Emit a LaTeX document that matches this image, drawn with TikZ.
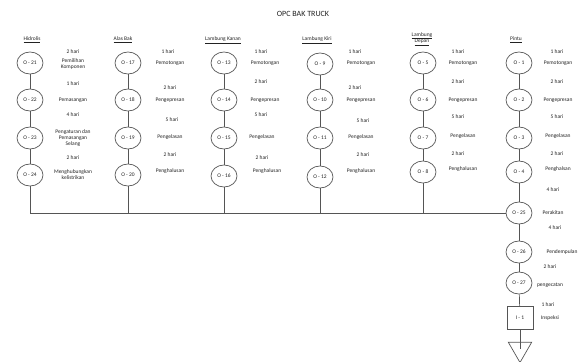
\documentclass[tikz,border=0pt]{standalone}
\usepackage{fontspec}
\setmainfont{Carlito}
\usetikzlibrary{shapes.geometric}
\definecolor{linec}{HTML}{555555}
\definecolor{txtc}{HTML}{222222}
\tikzset{
  op/.style={ellipse, draw=linec, line width=0.7pt, minimum width=26pt, minimum height=22pt, inner sep=0pt, font=\fontsize{5.5}{6}\selectfont, text=txtc},
  insp/.style={rectangle, draw=linec, line width=0.7pt, minimum width=26pt, minimum height=23pt, inner sep=0pt, font=\fontsize{5.5}{6}\selectfont, text=txtc},
  store/.style={regular polygon, regular polygon sides=3, shape border rotate=180, draw=linec, line width=0.7pt, minimum size=27pt, inner sep=0pt},
  lbl/.style={font=\fontsize{5.5}{6.2}\selectfont, text=txtc, align=center, inner sep=0pt},
  hdr/.style={font=\fontsize{5.5}{6.5}\selectfont, text=txtc, align=center, inner sep=0pt},
  conn/.style={draw=linec, line width=0.7pt},
}
\begin{document}
\begin{tikzpicture}[x=1pt,y=-1pt]
\useasboundingbox (0,0) rectangle (582,362);
\node[font=\fontsize{8}{9}\selectfont, text=txtc] (title) at (303,14) {OPC BAK TRUCK};

% headers
\node[hdr] (h1) at (32,40) {\underline{Hidrolis}};
\node[hdr] (h2) at (123,40) {\underline{Alas Bak}};
\node[hdr] (h3) at (223,40) {\underline{Lambung Kanan}};
\node[hdr] (h4) at (317,40) {\underline{Lambung Kiri}};
\node[hdr] (h5) at (422,39) {\underline{Lambung}\\\underline{Depan}};
\node[hdr] (h6) at (516,40) {\underline{Pintu}};

% Hidrolis
\node[op] (o21) at (30,63) {O - 21};
\node[op] (o22) at (30,100) {O - 22};
\node[op] (o23) at (30,138) {O - 23};
\node[op] (o24) at (30,175) {O - 24};
\node[lbl] (t21) at (73,52) {2 hari};
\node[lbl] (l21) at (73,64) {Pemilihan\\Komponen};
\node[lbl] (t22) at (73,84) {1 hari};
\node[lbl] (l22) at (73,100) {Pemasangan};
\node[lbl] (t23) at (73,115) {4 hari};
\node[lbl] (l23) at (73,138) {Pengaturan dan\\Pemasangan\\Selang};
\node[lbl] (t24) at (73,158) {2 hari};
\node[lbl] (l24) at (73,175) {Menghubungkan\\kelistrikan};

% Alas Bak
\node[op] (o17) at (128,63) {O - 17};
\node[op] (o18) at (128,100) {O - 18};
\node[op] (o19) at (128,138) {O - 19};
\node[op] (o20) at (128,175) {O - 20};
\node[lbl] (t17) at (168,52) {1 hari};
\node[lbl] (l17) at (170,63) {Pemotongan};
\node[lbl] (t18) at (170,88) {2 hari};
\node[lbl] (l18) at (170,100) {Pengepresan};
\node[lbl] (t19) at (172,120) {5 hari};
\node[lbl] (l19) at (170,137) {Pengelasan};
\node[lbl] (t20) at (170,155) {2 hari};
\node[lbl] (l20) at (170,171) {Penghalusan};

% Lambung Kanan
\node[op] (o13) at (224,63) {O - 13};
\node[op] (o14) at (224,100) {O - 14};
\node[op] (o15) at (224,138) {O - 15};
\node[op] (o16) at (224,176) {O - 16};
\node[lbl] (t13) at (261,52) {1 hari};
\node[lbl] (l13) at (265,63) {Pemotongan};
\node[lbl] (t14) at (261,82) {2 hari};
\node[lbl] (l14) at (265,100) {Pengepresan};
\node[lbl] (t15) at (261,115) {5 hari};
\node[lbl] (l15) at (262,137) {Pengelasan};
\node[lbl] (t16) at (262,158) {2 hari};
\node[lbl] (l16) at (267,171) {Penghalusan};

% Lambung Kiri
\node[op] (o9) at (320,64) {O - 9};
\node[op] (o10) at (320,100) {O - 10};
\node[op] (o11) at (320,138) {O - 11};
\node[op] (o12) at (320,177) {O - 12};
\node[lbl] (t9) at (355,52) {1 hari};
\node[lbl] (l9) at (361,63) {Pemotongan};
\node[lbl] (t10) at (355,88) {2 hari};
\node[lbl] (l10) at (361,100) {Pengepresan};
\node[lbl] (t11) at (363,121) {5 hari};
\node[lbl] (l11) at (361,137) {Pengelasan};
\node[lbl] (t12) at (363,155) {2 hari};
\node[lbl] (l12) at (361,171) {Penghalusan};

% Lambung Depan
\node[op] (o5) at (423,63) {O - 5};
\node[op] (o6) at (423,100) {O - 6};
\node[op] (o7) at (423,138) {O - 7};
\node[op] (o8) at (423,172) {O - 8};
\node[lbl] (t5) at (458,52) {1 hari};
\node[lbl] (l5) at (463,63) {Pemotongan};
\node[lbl] (t6) at (458,82) {2 hari};
\node[lbl] (l6) at (463,100) {Pengepresan};
\node[lbl] (t7) at (458,117) {5 hari};
\node[lbl] (l7) at (463,136) {Pengelasan};
\node[lbl] (t8) at (458,154) {2 hari};
\node[lbl] (l8) at (463,169) {Penghalusan};

% Pintu
\node[op] (o1) at (519,63) {O - 1};
\node[op] (o2) at (519,100) {O - 2};
\node[op] (o3) at (519,138) {O - 3};
\node[op] (o4) at (519,172) {O - 4};
\node[lbl] (t1) at (557,52) {1 hari};
\node[lbl] (l1) at (558,63) {Pemotongan};
\node[lbl] (t2) at (557,82) {2 hari};
\node[lbl] (l2) at (558,100) {Pengepresan};
\node[lbl] (t3) at (557,117) {5 hari};
\node[lbl] (l3) at (558,136) {Pengelasan};
\node[lbl] (t4) at (557,154) {2 hari};
\node[lbl] (l4) at (558,169) {Penghalsan};

% assembly chain
\node[op] (o25) at (519,213) {O - 25};
\node[op] (o26) at (519,252) {O - 26};
\node[op] (o27) at (519,283) {O - 27};
\node[insp] (i1) at (520,318) {I - 1};
\node[store] (end) at (520,349) {};
\node[lbl] (t25) at (553,190) {4 hari};
\node[lbl] (l25) at (553,213) {Perakitan};
\node[lbl] (t26) at (555,228) {4 hari};
\node[lbl] (l26) at (562,252) {Pendempulan};
\node[lbl] (t27) at (550,267) {2 hari};
\node[lbl] (l27) at (550,285) {pengecatan};
\node[lbl] (ti1) at (548,305) {1 hari};
\node[lbl] (li1) at (550,318) {Inspeksi};

% bus coordinates
\coordinate (b24) at (30,213);
\coordinate (b20) at (128,213);
\coordinate (b16) at (224,213);
\coordinate (b12) at (320,213);
\coordinate (b8) at (423,213);

% connectors
\draw[conn] (o21) -- (o22); \draw[conn] (o22) -- (o23); \draw[conn] (o23) -- (o24); \draw[conn] (o24) -- (b24);
\draw[conn] (o17) -- (o18); \draw[conn] (o18) -- (o19); \draw[conn] (o19) -- (o20); \draw[conn] (o20) -- (b20);
\draw[conn] (o13) -- (o14); \draw[conn] (o14) -- (o15); \draw[conn] (o15) -- (o16); \draw[conn] (o16) -- (b16);
\draw[conn] (o9) -- (o10); \draw[conn] (o10) -- (o11); \draw[conn] (o11) -- (o12); \draw[conn] (o12) -- (b12);
\draw[conn] (o5) -- (o6); \draw[conn] (o6) -- (o7); \draw[conn] (o7) -- (o8); \draw[conn] (o8) -- (b8);
\draw[conn] (o1) -- (o2); \draw[conn] (o2) -- (o3); \draw[conn] (o3) -- (o4); \draw[conn] (o4) -- (o25);
\draw[conn, line width=0.9pt] (b24) -- (o25);
\draw[conn] (o25) -- (o26); \draw[conn] (o26) -- (o27); \draw[conn] (o27) -- (i1); \draw[conn] (i1) -- (end.center);
\end{tikzpicture}
\end{document}
